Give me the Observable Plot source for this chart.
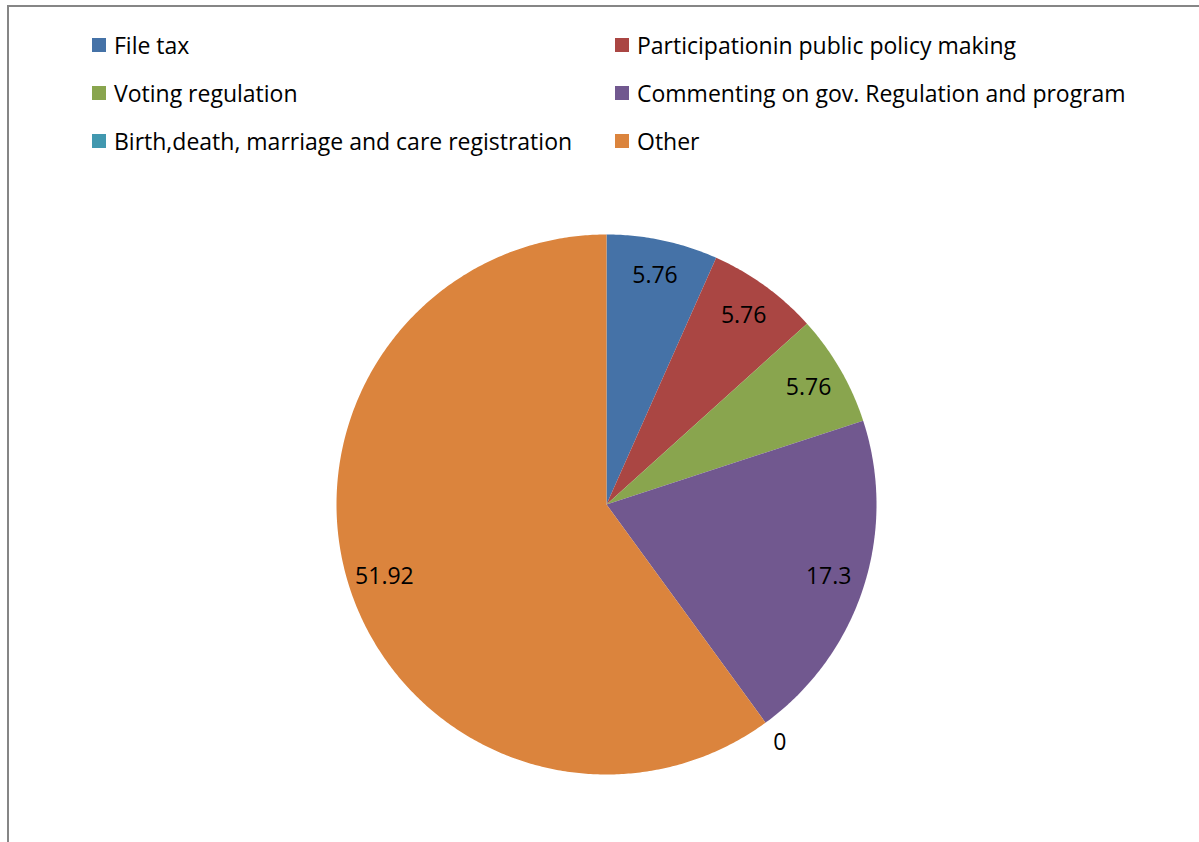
<!DOCTYPE html>
<html>
<head>
<meta charset="utf-8">
<script src="https://cdn.jsdelivr.net/npm/d3@7"></script>
<script src="https://cdn.jsdelivr.net/npm/@observablehq/plot@0.6"></script>
<style>
  html, body { margin: 0; padding: 0; background: #fff; }
  body { width: 1199px; height: 842px; position: relative; overflow: hidden; font-family: "Open Sans", sans-serif; }
  #frame { position: absolute; left: 7px; top: 5px; width: 1192px; height: 837px; box-sizing: border-box;
           border-top: 2px solid #868686; border-left: 2px solid #868686; }
  .item { position: absolute; height: 30px; display: flex; align-items: center; font-size: 23px; color: #000; white-space: nowrap; }
  .sw { width: 14px; height: 14px; margin-right: 8px; flex: none; }
  #chart { position: absolute; left: 0; top: 175px; }
</style>
</head>
<body>
<div id="frame"></div>
<div id="legend"></div>
<div id="chart"></div>
<script>
const categories = [
  "File tax",
  "Participationin public policy making",
  "Voting regulation",
  "Commenting on gov. Regulation and program",
  "Birth,death, marriage and care registration",
  "Other"
];
const values = [5.76, 5.76, 5.76, 17.3, 0, 51.92];
const labels = ["5.76", "5.76", "5.76", "17.3", "0", "51.92"];
const colors = ["#4572A7", "#AA4643", "#89A54E", "#71588F", "#4198AF", "#DB843D"];

// Legend (two columns, three rows)
const legend = document.getElementById("legend");
categories.forEach((c, i) => {
  const col = i % 2, row = Math.floor(i / 2);
  const d = document.createElement("div");
  d.className = "item";
  d.style.left = (col === 0 ? 92 : 615) + "px";
  d.style.top = (30 + row * 48) + "px";
  d.innerHTML = `<span class="sw" style="background:${colors[i]}"></span><span>${c}</span>`;
  legend.appendChild(d);
});

// Pie geometry in unit coordinates (angle measured clockwise from top)
const total = d3.sum(values);
let acc = 0;
const slices = values.map((v, i) => {
  const a0 = acc / total * 2 * Math.PI;
  acc += v;
  const a1 = acc / total * 2 * Math.PI;
  return {cat: categories[i], v, a0, a1, label: labels[i]};
});
const polyPts = [];
for (const s of slices) {
  if (s.v <= 0) continue;
  polyPts.push({cat: s.cat, x: 0, y: 0});
  const n = Math.max(2, Math.ceil((s.a1 - s.a0) / (Math.PI / 360)));
  for (let k = 0; k <= n; k++) {
    const a = s.a0 + (s.a1 - s.a0) * k / n;
    polyPts.push({cat: s.cat, x: Math.sin(a), y: Math.cos(a)});
  }
  polyPts.push({cat: s.cat, x: 0, y: 0});
}
const labelPts = slices.map(s => {
  const m = (s.a0 + s.a1) / 2;
  const r = s.v > 0 ? 0.865 : 1.09;
  return {label: s.label, x: Math.sin(m) * r, y: Math.cos(m) * r};
});

const plot = Plot.plot({
  width: 1199,
  height: 667,
  x: {domain: [-1, 1], range: [336, 876], axis: null},
  y: {domain: [-1, 1], range: [599, 59], axis: null},
  color: {domain: categories, range: colors},
  style: {fontFamily: "Open Sans", fontSize: "23px", background: "transparent", overflow: "visible"},
  marks: [
    Plot.line(polyPts, {x: "x", y: "y", z: "cat", fill: "cat", stroke: null, curve: "linear"}),
    Plot.text(labelPts, {x: "x", y: "y", text: "label", fontSize: 23, fill: "#000"})
  ]
});
document.getElementById("chart").appendChild(plot);
</script>
</body>
</html>
